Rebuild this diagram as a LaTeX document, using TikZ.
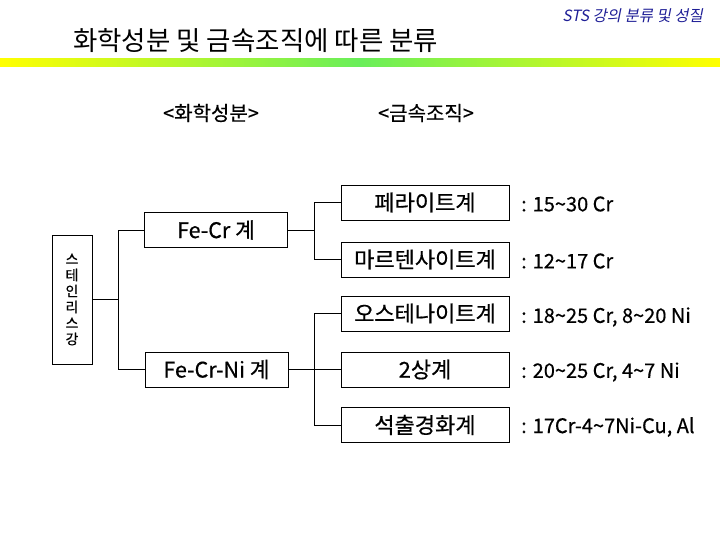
\documentclass[tikz,border=0pt]{standalone}
\usepackage{fontspec}
\setmainfont{Noto Sans CJK KR}
\newfontfamily\hdrfont[FakeSlant=0.2]{Noto Sans CJK KR}
\newfontfamily\heavyfont[FakeBold=0.5]{Noto Sans CJK KR}
\usetikzlibrary{positioning}
\definecolor{barGreen}{RGB}{105,238,90}
\definecolor{hdrBlue}{RGB}{30,30,150}
\tikzset{
  box/.style={draw, line width=0.9pt, inner sep=0pt, minimum height=35pt},
  rbox/.style={box, minimum width=168pt, font=\heavyfont\fontsize{22}{24}\selectfont},
  lbox/.style={box, minimum width=143pt, font=\heavyfont\fontsize{21.5}{24}\selectfont},
  lbl/.style={anchor=west, inner sep=0pt, font=\heavyfont\fontsize{20}{22}\selectfont},
  conn/.style={line width=0.9pt},
  sub/.style={inner sep=0pt, font=\heavyfont\fontsize{20}{22}\selectfont}
}
\begin{document}
\begin{tikzpicture}[x=1pt,y=-1pt]
\useasboundingbox (0,0) rectangle (720,540);
% header
\node[anchor=east, inner sep=0pt, text=hdrBlue, font=\hdrfont\fontsize{15.5}{17}\selectfont] (hdr) at (703,16) {STS 강의 분류 및 성질};
\node[anchor=west, inner sep=0pt, font=\fontsize{26.5}{28}\selectfont] (title) at (73,41) {화학성분 및 금속조직에 따른 분류};
\shade[left color=yellow, right color=yellow, middle color=barGreen] (0,59) rectangle (720,67);
% subtitles
\node[sub] (chem) at (211,113) {<화학성분>};
\node[sub] (metal) at (426,113) {<금속조직>};
% left
\node[box, minimum width=40pt, minimum height=129pt, align=center,
      font=\heavyfont\fontsize{14}{16}\selectfont] (sts) at (72,299.5) {스\\테\\인\\리\\스\\강};
\node[lbox] (fecr) at (216,230) {Fe-Cr 계};
\node[lbox] (fecrni) at (216.5,369.5) {Fe-Cr-Ni 계};
% right boxes
\node[rbox] (f1) at (425,202.5) {페라이트계};
\node[rbox] (f2) at (425,259.5) {마르텐사이트계};
\node[rbox] (f3) at (425,313.5) {오스테나이트계};
\node[rbox] (f4) at (425,369.5) {2상계};
\node[rbox] (f5) at (425,425) {석출경화계};
% labels
\node[lbl] (l1) at (521,204) {: 15\textasciitilde30 Cr};
\node[lbl] (l2) at (521,261) {: 12\textasciitilde17 Cr};
\node[lbl] (l3) at (521,317) {: 18\textasciitilde25 Cr, 8\textasciitilde20 Ni};
\node[lbl] (l4) at (521,372) {: 20\textasciitilde25 Cr, 4\textasciitilde7 Ni};
\node[lbl] (l5) at (521,427) {: 17Cr-4\textasciitilde7Ni-Cu, Al};
% buses
\coordinate (bus1) at (118,0);
\coordinate (bus2) at (314,0);
\draw[conn] (sts.east) -- (sts.east -| bus1);
\draw[conn] (fecr.west) -- (fecr.west -| bus1) -- (fecrni.west -| bus1) -- (fecrni.west);
\draw[conn] (fecr.east) -- (fecr.east -| bus2);
\draw[conn] (f1.west) -- (f1.west -| bus2) -- (f2.west -| bus2) -- (f2.west);
\draw[conn] (fecrni.east) -- (fecrni.east -| bus2);
\draw[conn] (f3.west) -- (f3.west -| bus2) -- (f5.west -| bus2) -- (f5.west);
\draw[conn] (f4.west) -- (f4.west -| bus2);
\end{tikzpicture}
\end{document}
